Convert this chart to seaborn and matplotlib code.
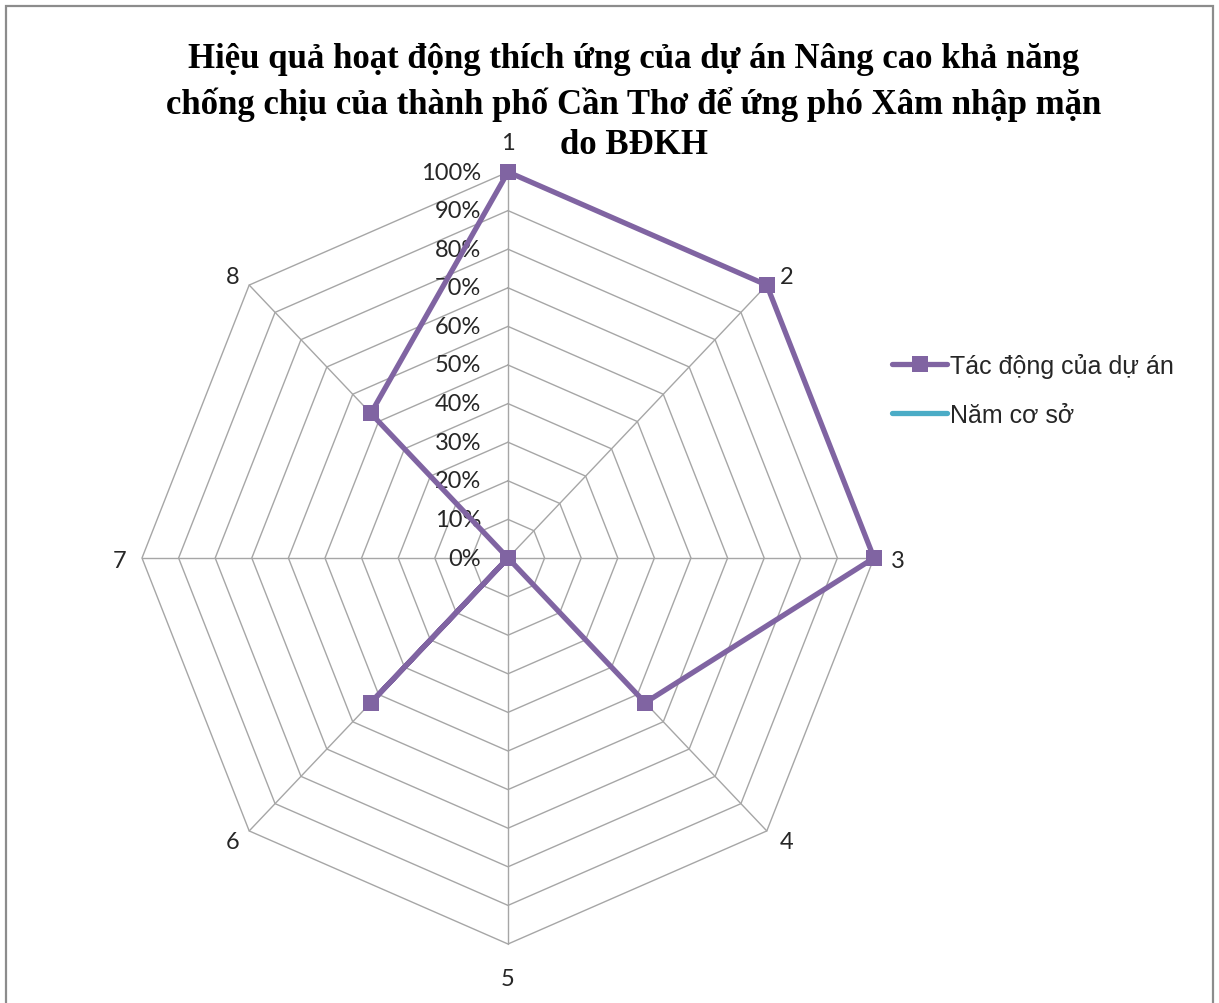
import numpy as np
import pandas as pd
import matplotlib
matplotlib.use("Agg")
import matplotlib.pyplot as plt
import matplotlib.transforms as mtransforms
from matplotlib.patches import Rectangle
from matplotlib.lines import Line2D
import seaborn as sns

# Data
categories = ["1", "2", "3", "4", "5", "6", "7", "8"]
tac_dong = [1.00, 1.00, 1.00, 0.53, 0.00, 0.53, 0.00, 0.53]
nam_co_so = [0.0, 0.0, 0.0, 0.0, 0.0, 0.0, 0.0, 0.0]
levels = [0.0, 0.1, 0.2, 0.3, 0.4, 0.5, 0.6, 0.7, 0.8, 0.9, 1.0]
level_labels = ["0%", "10%", "20%", "30%", "40%", "50%", "60%", "70%", "80%", "90%", "100%"]
series_names = ["Tác động của dự án", "Năm cơ sở"]
title_lines = ["Hiệu quả hoạt động thích ứng của dự án Nâng cao khả năng",
               "chống chịu của thành phố Cần Thơ để ứng phó Xâm nhập mặn",
               "do BĐKH"]

PURPLE = "#8064A2"
TEAL = "#4BACC6"
GRID = "#A6A6A6"
LABEL_FONT = ["Lato", "DejaVu Sans"]

sns.set_theme(style="white")
plt.rcParams["font.family"] = ["Liberation Sans", "DejaVu Sans"]

W, H = 1219, 1004
fig = plt.figure(figsize=(W / 100, H / 100), dpi=100)

# polar axes placed by pixel geometry (centre, horizontal and vertical radius)
cx, cy, rx, ry = 508, 559, 366, 386
ax = fig.add_axes([(cx - rx) / W, (H - cy - ry) / H, 2 * rx / W, 2 * ry / H],
                  projection="polar")
ax.set_aspect("auto")
ax.set_theta_zero_location("N")
ax.set_theta_direction(-1)
ax.set_ylim(0, 1)
ax.grid(False)
ax.spines["polar"].set_visible(False)
ax.set_facecolor("none")

n = len(categories)
theta = np.arange(n) * 2 * np.pi / n
theta_closed = np.append(theta, 2 * np.pi)

# octagonal grid rings and spokes
for lv in levels[1:]:
    ax.plot(theta_closed, [lv] * (n + 1), color=GRID, lw=1.0, zorder=1)
for t in theta:
    ax.plot([t, t], [0, 1], color=GRID, lw=1.0, zorder=1)

# series
df = pd.DataFrame({
    "theta": np.concatenate([theta_closed, theta_closed]),
    "value": np.concatenate([np.append(nam_co_so, nam_co_so[0]),
                             np.append(tac_dong, tac_dong[0])]),
    "series": [series_names[1]] * (n + 1) + [series_names[0]] * (n + 1),
})
sns.lineplot(data=df[df["series"] == series_names[1]], x="theta", y="value",
             sort=False, estimator=None, color=TEAL, lw=3.8, ax=ax,
             legend=False, zorder=3)
sns.lineplot(data=df[df["series"] == series_names[0]], x="theta", y="value",
             sort=False, estimator=None, color=PURPLE, lw=3.8, marker="s",
             markersize=11, markeredgewidth=0, ax=ax, legend=False, zorder=4)
for ln in ax.lines:
    ln.set_clip_on(False)
ax.set_xlabel("")
ax.set_ylabel("")
ax.set_xticks([])
ax.set_yticks([])

# category labels just outside the outer ring
label_offsets = [(0, 30), (20, 9), (24, -2), (20, -11),
                 (0, -35), (-17, -11), (-22, -2), (-17, 9)]
for t, lab, (dx, dy) in zip(theta, categories, label_offsets):
    tr = mtransforms.offset_copy(ax.transData, fig=fig, x=dx, y=dy, units="dots")
    ax.text(t, 1.0, lab, transform=tr, ha="center", va="center", fontsize=17,
            family=LABEL_FONT, color="#262626", clip_on=False)

# radial value labels left of the top spoke
off = mtransforms.offset_copy(ax.transData, fig=fig, x=-27, y=0, units="dots")
for lv, lab in zip(levels, level_labels):
    ax.text(0, lv, lab, transform=off, ha="right", va="center", fontsize=17,
            family=LABEL_FONT, color="#262626")

# legend
handles = [Line2D([], [], color=PURPLE, lw=3.8, marker="s", markersize=11,
                  markeredgewidth=0),
           Line2D([], [], color=TEAL, lw=3.8)]
fig.legend(handles, series_names, loc="center left",
           bbox_to_anchor=(892 / W, 1 - 391 / H), frameon=False, fontsize=18,
           handlelength=2.2, handletextpad=0.12, labelspacing=1.0,
           borderaxespad=0, borderpad=0)

# title, one text per line
for line, ypix in zip(title_lines, [60, 104, 146]):
    fig.text(634 / W, 1 - ypix / H, line, ha="center", va="center",
             fontsize=25, fontweight="bold",
             family=["Liberation Serif", "DejaVu Serif"], color="black")

# chart area border
fig.patches.append(Rectangle((6 / W, -0.02), (1213 - 6) / W, 1 - 7 / H + 0.02,
                             transform=fig.transFigure, fill=False,
                             edgecolor="#8C8C8C", lw=1.6, zorder=0))

fig.savefig("out.png", dpi=100, facecolor="white")
